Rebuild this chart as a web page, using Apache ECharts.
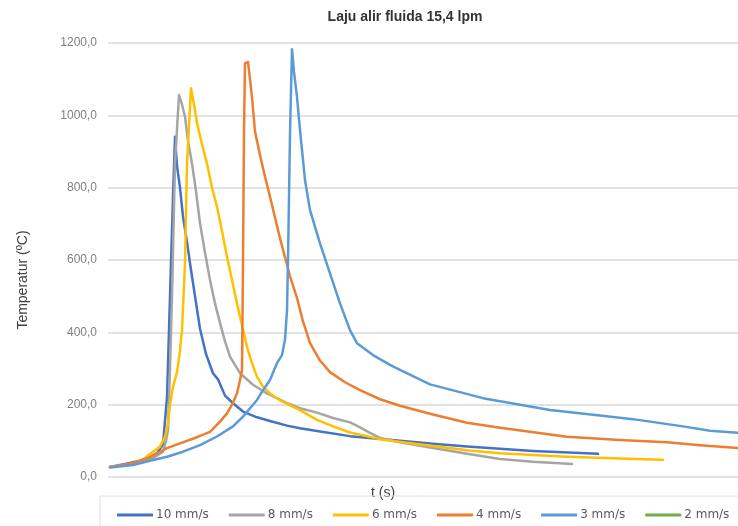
<!DOCTYPE html>
<html><head><meta charset="utf-8">
<script src="https://cdn.jsdelivr.net/npm/echarts@6/dist/echarts.min.js"></script>
<style>html,body{margin:0;padding:0;background:#fff}#c{width:738px;height:526px}</style>
</head><body><div id="c"></div>
<script>
const seriesNames = ['10 mm/s', '8 mm/s', '6 mm/s', '4 mm/s', '3 mm/s', '2 mm/s'];
const yTicks = [0, 200, 400, 600, 800, 1000, 1200];

const t10 = [2,17,32,42,49,55,59,62,65,67,69,72,75,79,82,87,92,98,105,110,117,125,135,149,162,179,192,209,242,292,325,359,425,490];
const T10 = [28,36,45,55,66,90,220,499,775,941,860,800,720,650,591,500,410,340,287,270,225,204,181,165,155,142,135,127,113,100,92,84,72,64];

const t8 = [2,17,32,45,55,58,60,62,64,67,71,74,77,80,84,88,92,97,102,107,112,117,122,132,145,159,179,192,209,225,242,252,262,272,292,325,359,392,425,464];
const T8 = [28,34,40,52,70,100,130,300,499,868,1056,1030,996,930,867,790,702,620,545,480,426,375,333,287,255,231,204,190,178,163,151,137,122,108,96,80,64,50,42,36];

const t6 = [2,17,27,35,40,45,52,57,60,62,65,69,72,74,77,79,83,86,89,94,99,104,109,114,119,124,129,134,139,144,149,155,162,172,182,192,209,225,242,275,325,359,392,459,512,555];
const T6 = [28,33,38,47,60,70,84,111,150,200,250,290,350,406,591,867,1075,1030,979,920,867,800,747,680,609,545,480,420,360,315,277,250,231,212,198,185,158,140,123,103,86,74,66,56,51,48];

const t4 = [2,12,25,42,59,72,89,102,112,119,124,129,132,134,135,136,137,140,144,147,152,157,162,172,182,189,195,202,212,222,237,252,272,292,322,359,392,459,512,559,592,630];
const T4 = [28,32,38,55,80,93,110,125,153,176,200,231,268,296,591,959,1144,1148,1050,955,890,830,775,660,555,495,430,370,322,290,262,240,215,197,175,150,136,111,102,96,88,80];

const t3 = [2,25,42,59,75,92,109,125,135,142,149,155,162,169,174,177,179,180,181,182,184,186,189,192,197,202,212,222,232,242,249,265,282,292,322,375,442,492,525,575,602,630];
const T3 = [26,33,45,56,70,88,112,140,167,190,213,240,268,315,337,380,460,600,775,950,1183,1120,1051,959,821,738,646,563,480,406,370,337,310,296,256,218,185,170,160,140,128,122];

const t2 = [];
const T2 = [];

const colors = ['#4472C4', '#A5A5A5', '#FFC000', '#ED7D31', '#5B9BD5', '#70AD47'];
const tList = [t10, t8, t6, t4, t3, t2];
const TList = [T10, T8, T6, T4, T3, T2];

const chart = echarts.init(document.getElementById('c'), null, {renderer: 'canvas'});
const series = seriesNames.map((name, i) => ({
  name: name,
  type: 'line',
  data: tList[i].map((t, k) => [t, TList[i][k]]),
  showSymbol: false,
  symbol: 'none',
  smooth: false,
  lineStyle: {width: 2.5, color: colors[i], join: 'round', cap: 'round'},
  itemStyle: {color: colors[i]},
  emphasis: {disabled: true}
}));

chart.setOption({
  animation: false,
  backgroundColor: '#ffffff',
  title: {
    text: 'Laju alir fluida 15,4 lpm',
    left: 400, top: 5, textAlign: 'center',
    textStyle: {fontFamily: 'Liberation Sans', fontSize: 14, fontWeight: 'bold', color: '#333333'}
  },
  grid: {left: 108, right: 0, top: 43, bottom: 49},
  xAxis: {
    type: 'value', min: 0, max: 630,
    name: 't (s)', nameLocation: 'middle', nameGap: 9,
    nameTextStyle: {fontFamily: 'Liberation Sans', fontSize: 14, color: '#404040', padding: [0, 80, 0, 0]},
    axisLine: {show: false}, axisTick: {show: false}, axisLabel: {show: false}, splitLine: {show: false}
  },
  yAxis: {
    type: 'value', min: yTicks[0], max: yTicks[yTicks.length - 1], interval: 200,
    name: 'Temperatur (ºC)', nameLocation: 'middle', nameGap: 78,
    nameTextStyle: {fontFamily: 'Liberation Sans', fontSize: 14, color: '#404040', padding: [0, 40, 0, 0]},
    axisLine: {show: false}, axisTick: {show: false},
    axisLabel: {
      margin: 11, fontFamily: 'Liberation Sans', fontSize: 12, color: '#7f7f7f',
      formatter: v => v.toFixed(1).replace('.', ',')
    },
    splitLine: {show: true, lineStyle: {color: '#d9d9d9', width: 1.5}}
  },
  legend: {
    data: seriesNames,
    left: 100, top: 496, width: 720,
    orient: 'horizontal',
    icon: 'rect', itemWidth: 36, itemHeight: 3, itemGap: 20,
    padding: [13, 30, 30, 17],
    borderColor: '#e0e0e0', borderWidth: 1,
    textStyle: {fontFamily: 'DejaVu Sans', fontSize: 12, color: '#595959', padding: [0, 0, 0, -2]}
  },
  series: series
});
</script></body></html>
